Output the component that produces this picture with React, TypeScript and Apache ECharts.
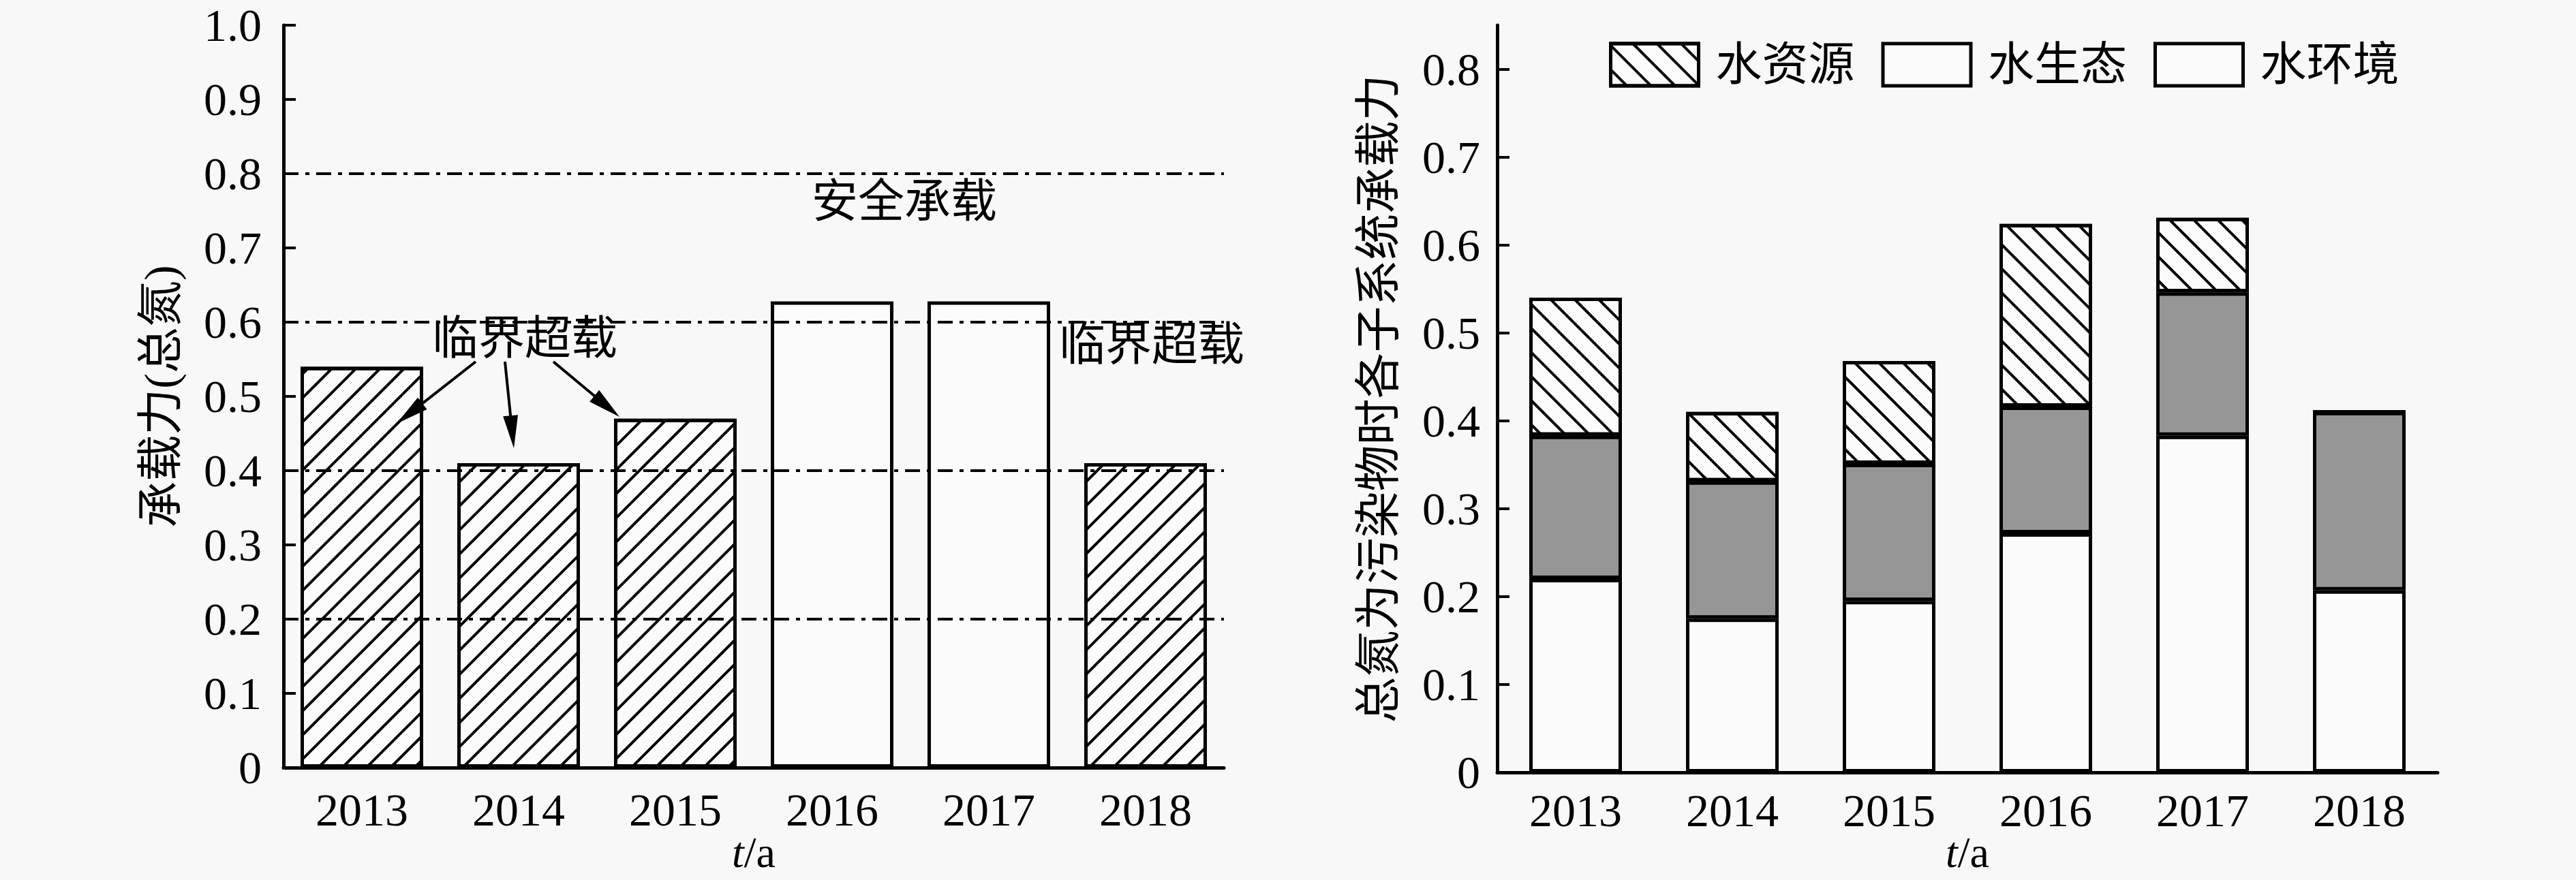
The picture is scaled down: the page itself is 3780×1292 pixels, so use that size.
import React, { useEffect, useRef } from 'react';
import * as echarts from 'echarts';

// ---------- data ----------
const years = ['2013', '2014', '2015', '2016', '2017', '2018'];
// left: carrying capacity (total nitrogen)
const capacity = [0.54, 0.41, 0.47, 0.628, 0.628, 0.41];
const thresholds = [0.8, 0.6, 0.4, 0.2];
const criticalLimit = 0.6;
// right: stacked sub-system capacities
const seriesNames = ['水资源', '水生态', '水环境'];
const waterEnv = [0.22, 0.175, 0.195, 0.272, 0.383, 0.207];
const waterEco = [0.163, 0.156, 0.156, 0.144, 0.163, 0.203];
const waterRes = [0.157, 0.079, 0.117, 0.208, 0.085, 0];

// ---------- styles ----------
const SERIF = '"Liberation Serif", "Times New Roman", serif';
const CJK = '"Liberation Serif", "Noto Sans CJK SC", sans-serif';
const BG = '#f8f8f8';
const WHITE = '#fbfbfb';
const GREY = '#969696';

const hatchFwd = {
  symbol: 'rect', symbolSize: 1, color: '#000',
  dashArrayX: [1, 0], dashArrayY: [4, 21], rotation: -Math.PI / 4,
};
const hatchBack = {
  symbol: 'rect', symbolSize: 1, color: '#000',
  dashArrayX: [1, 0], dashArrayY: [4, 21], rotation: Math.PI / 4,
};

function arrow(x1: number, y1: number, x2: number, y2: number) {
  const dx = x2 - x1, dy = y2 - y1;
  const L = Math.hypot(dx, dy);
  const ux = dx / L, uy = dy / L;
  const head = 48, hw = 11;
  const bx = x2 - ux * head, by = y2 - uy * head;
  const px = -uy, py = ux;
  return [
    { type: 'line', z: 100, shape: { x1, y1, x2: bx + ux * 4, y2: by + uy * 4 }, style: { stroke: '#000', lineWidth: 4 } },
    { type: 'polygon', z: 100, shape: { points: [[x2, y2], [bx + px * hw, by + py * hw], [bx - px * hw, by - py * hw]] }, style: { fill: '#000' } },
  ];
}

const axisCommonX = (gridIndex: number, margin: number, nameGap: number) => ({
  gridIndex,
  type: 'category',
  data: years,
  axisLine: { lineStyle: { color: '#000', width: 5 } },
  axisTick: { alignWithLabel: true, inside: true, length: 14, lineStyle: { color: '#000', width: 4 } },
  axisLabel: { color: '#000', fontSize: 68, fontFamily: SERIF, margin },
  name: '{i|t}/a',
  nameLocation: 'middle',
  nameGap,
  nameMoveOverlap: false,
  nameTextStyle: {
    color: '#000', fontSize: 64, fontFamily: SERIF, lineHeight: 64,
    rich: { i: { fontStyle: 'italic', fontSize: 64, fontFamily: SERIF, color: '#000', lineHeight: 64 } },
  },
});

const axisCommonY = (gridIndex: number, max: number, name: string, nameGap: number, margin: number) => ({
  gridIndex,
  type: 'value',
  min: 0,
  max,
  interval: 0.1,
  splitLine: { show: false },
  axisLine: { show: true, lineStyle: { color: '#000', width: 5 } },
  axisTick: { show: true, inside: true, length: 18, lineStyle: { color: '#000', width: 4 } },
  axisLabel: {
    color: '#000', fontSize: 68, fontFamily: SERIF, margin,
    showMaxLabel: max === 1 ? true : false,
    formatter: (v: number) => (v === 0 ? '0' : v.toFixed(1)),
  },
  name,
  nameLocation: 'middle',
  nameGap,
  nameMoveOverlap: false,
  nameTextStyle: { color: '#000', fontSize: 68, fontFamily: CJK },
});

export default function App() {
  const ref = useRef<HTMLDivElement>(null);
  useEffect(() => {
    if (!ref.current) return;
    const chart = echarts.init(ref.current, null, { renderer: 'svg' });
    const option: any = {
      animation: false,
      backgroundColor: BG,
      textStyle: { fontFamily: CJK },
      grid: [
        { left: 416, top: 37, width: 1380, height: 1090, outerBoundsMode: 'none' },
        { left: 2197, top: 37, width: 1380, height: 1097, outerBoundsMode: 'none' },
      ],
      xAxis: [axisCommonX(0, 28, 92), axisCommonX(1, 22, 85)],
      yAxis: [
        axisCommonY(0, 1, '承载力(总氮)', 146, 32),
        axisCommonY(1, 0.85, '总氮为污染物时各子系统承载力', 140, 25),
      ],
      legend: {
        left: 2356, top: 56,
        itemWidth: 129, itemHeight: 62, itemGap: 39,
        icon: 'rect',
        selectedMode: false,
        itemStyle: { borderWidth: 5, borderColor: '#000' },
        textStyle: { fontSize: 68, fontFamily: CJK, color: '#000', padding: [0, 0, 0, 20] },
        data: [seriesNames[0], { name: seriesNames[1], itemStyle: { color: WHITE } }, seriesNames[2]],
      },
      series: [
        {
          type: 'bar', xAxisIndex: 0, yAxisIndex: 0, barWidth: 180,
          itemStyle: { color: WHITE, borderColor: '#000', borderWidth: 5 },
          data: capacity.map((v) => ({ value: v, itemStyle: v < criticalLimit ? { decal: hatchFwd } : {} })),
          markLine: {
            silent: true, symbol: ['none', 'none'], label: { show: false },
            lineStyle: { color: '#000', width: 4, type: [22, 10, 6, 10] },
            data: thresholds.map((v) => ({ yAxis: v })),
          },
        },
        {
          name: seriesNames[2], type: 'bar', stack: 'sub', xAxisIndex: 1, yAxisIndex: 1, barWidth: 136,
          itemStyle: { color: WHITE, borderColor: '#000', borderWidth: 5 },
          data: waterEnv,
        },
        {
          name: seriesNames[1], type: 'bar', stack: 'sub', xAxisIndex: 1, yAxisIndex: 1, barWidth: 136,
          itemStyle: { color: GREY, borderColor: '#000', borderWidth: 5 },
          data: waterEco,
        },
        {
          name: seriesNames[0], type: 'bar', stack: 'sub', xAxisIndex: 1, yAxisIndex: 1, barWidth: 136,
          itemStyle: { color: WHITE, borderColor: '#000', borderWidth: 5, decal: hatchBack },
          data: waterRes,
        },
      ],
      graphic: [
        { type: 'text', z: 100, x: 1327, y: 296, style: { text: '安全承载', fontSize: 68, fontFamily: CJK, fill: '#000', align: 'center', verticalAlign: 'middle' } },
        { type: 'text', z: 100, x: 770, y: 497, style: { text: '临界超载', fontSize: 68, fontFamily: CJK, fill: '#000', align: 'center', verticalAlign: 'middle' } },
        { type: 'text', z: 100, x: 1690, y: 506, style: { text: '临界超载', fontSize: 68, fontFamily: CJK, fill: '#000', align: 'center', verticalAlign: 'middle' } },
        ...arrow(698, 531, 582, 622),
        ...arrow(741, 531, 754, 658),
        ...arrow(812, 531, 909, 612),
      ],
    };
    chart.setOption(option);
    return () => chart.dispose();
  }, []);
  return (
    <div
      ref={ref}
      style={{ position: 'absolute', left: 0, top: 0, width: 3780, height: 1292, background: BG }}
    />
  );
}
